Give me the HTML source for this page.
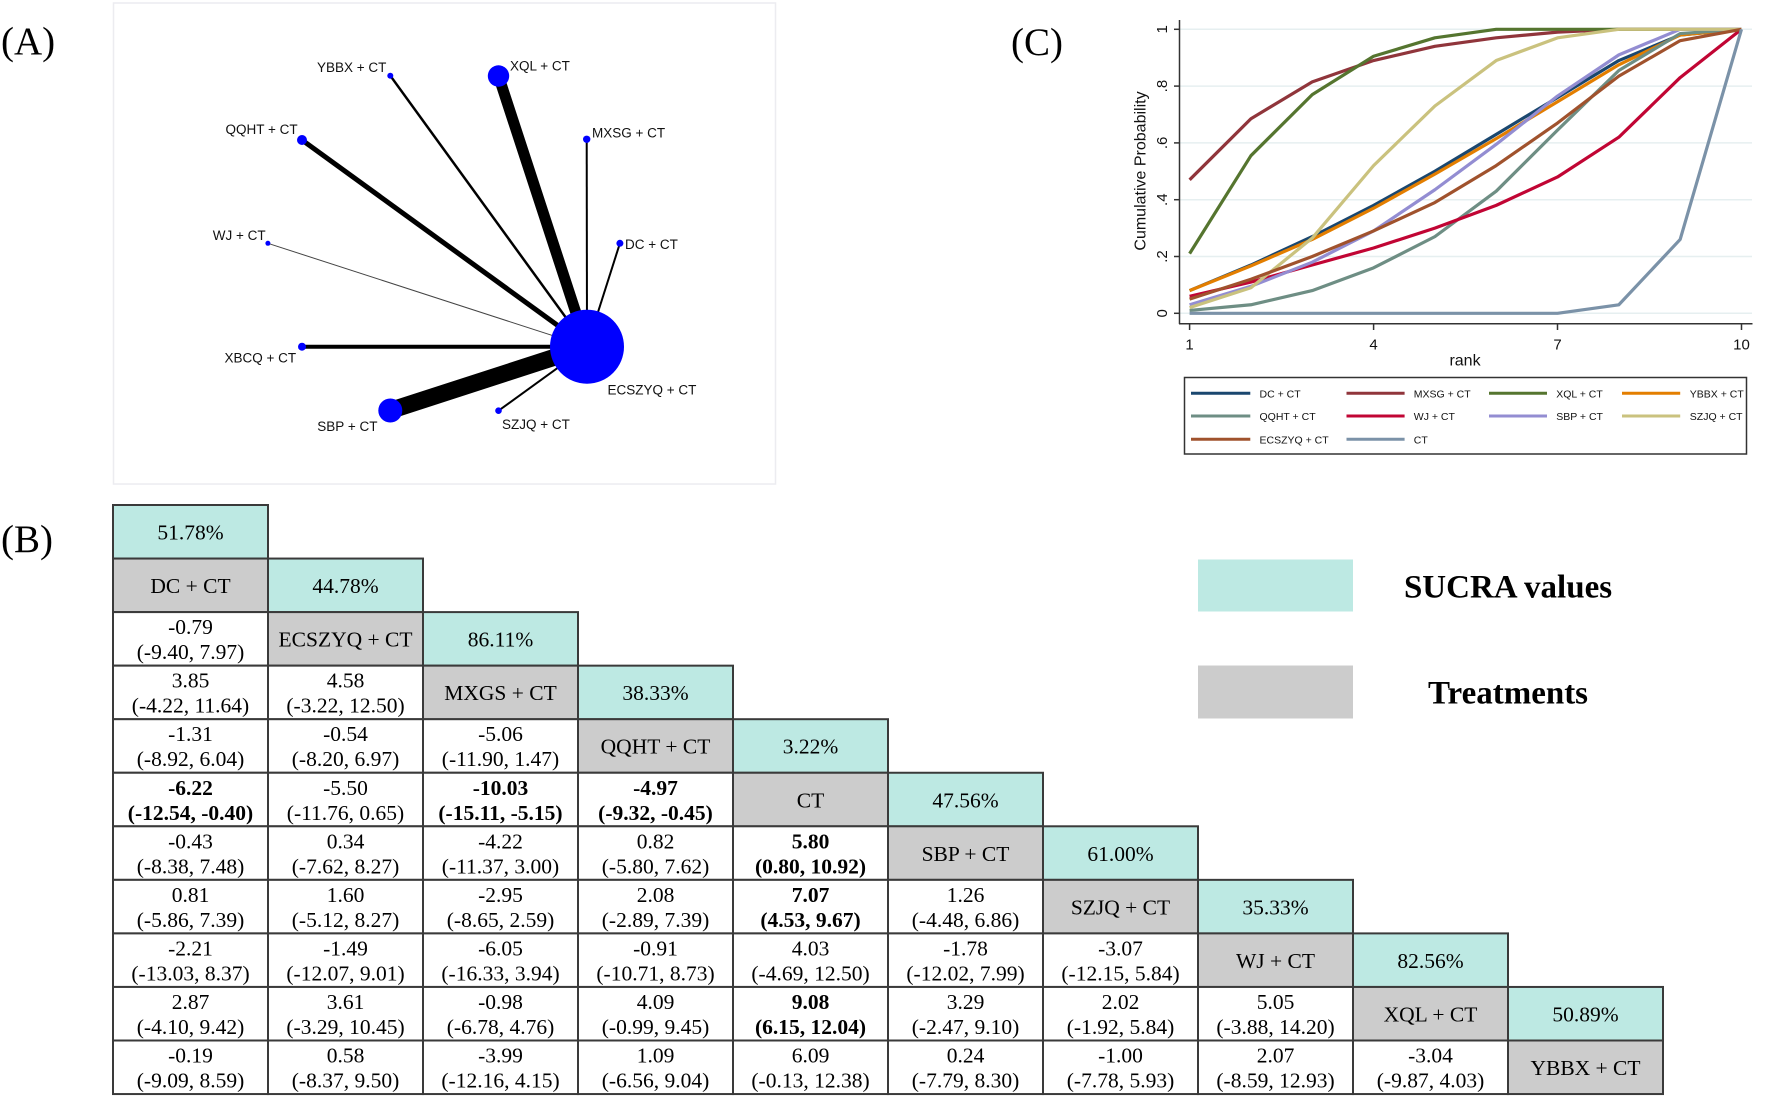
<!DOCTYPE html>
<html>
<head>
<meta charset="utf-8">
<style>
html,body{margin:0;padding:0;background:#fff;}
svg{display:block;}
.t{font-family:"Liberation Serif",serif;font-size:21.5px;text-anchor:middle;fill:#000;}
.b{font-weight:bold;}
.s{font-family:"Liberation Sans",sans-serif;font-size:13.5px;fill:#111;}
.lg{font-family:"Liberation Sans",sans-serif;font-size:10.5px;fill:#111;}
.ax{font-family:"Liberation Sans",sans-serif;fill:#111;}
.pl{font-family:"Liberation Serif",serif;font-size:39px;fill:#000;}
</style>
</head>
<body>
<svg width="1772" height="1098" viewBox="0 0 1772 1098" xmlns="http://www.w3.org/2000/svg">
<rect width="1772" height="1098" fill="#fff"/>

<!-- Panel labels -->
<text class="pl" x="1" y="54">(A)</text>
<text class="pl" x="1" y="552">(B)</text>
<text class="pl" x="1011" y="55">(C)</text>

<!-- ================= PANEL A ================= -->
<rect x="113.5" y="3" width="662" height="481" fill="none" stroke="#ececf0" stroke-width="1.5"/>
<g stroke="#000" stroke-linecap="butt">
  <line x1="267.9" y1="243.3" x2="587" y2="346.7" stroke="#444" stroke-width="1"/>
  <line x1="390.3" y1="75.7" x2="587" y2="346.7" stroke-width="2.5"/>
  <line x1="302" y1="140" x2="587" y2="346.7" stroke-width="5"/>
  <line x1="498.5" y1="76" x2="587" y2="346.7" stroke-width="11"/>
  <line x1="586.7" y1="139.3" x2="587" y2="346.7" stroke-width="2"/>
  <line x1="619.9" y1="243.3" x2="587" y2="346.7" stroke-width="2"/>
  <line x1="302" y1="346.7" x2="587" y2="346.7" stroke-width="4"/>
  <line x1="390.3" y1="410.5" x2="587" y2="346.7" stroke-width="17"/>
  <line x1="498.5" y1="410.7" x2="587" y2="346.7" stroke-width="2"/>
</g>
<g fill="#0000ff">
  <circle cx="587" cy="346.7" r="37"/>
  <circle cx="498.5" cy="76" r="10.7"/>
  <circle cx="390.3" cy="75.7" r="3"/>
  <circle cx="302" cy="140" r="5"/>
  <circle cx="586.7" cy="139.3" r="3.7"/>
  <circle cx="267.9" cy="243.3" r="2.5"/>
  <circle cx="619.9" cy="243.3" r="3.5"/>
  <circle cx="302" cy="346.7" r="4"/>
  <circle cx="390.3" cy="410.5" r="12"/>
  <circle cx="498.5" cy="410.7" r="3.3"/>
</g>
<text class="s" x="317" y="72">YBBX + CT</text>
<text class="s" x="510" y="70.7">XQL + CT</text>
<text class="s" x="225.5" y="134">QQHT + CT</text>
<text class="s" x="592" y="137.5">MXSG + CT</text>
<text class="s" x="212.8" y="240">WJ + CT</text>
<text class="s" x="625" y="249">DC + CT</text>
<text class="s" x="224.5" y="362.7">XBCQ + CT</text>
<text class="s" x="607.5" y="394.3">ECSZYQ + CT</text>
<text class="s" x="317.3" y="431">SBP + CT</text>
<text class="s" x="502" y="428.8">SZJQ + CT</text>

<!-- ================= PANEL C ================= -->
<g stroke="#e6eff0" stroke-width="1.5">
  <line x1="1180" y1="29.3" x2="1752" y2="29.3"/>
  <line x1="1180" y1="86.1" x2="1752" y2="86.1"/>
  <line x1="1180" y1="142.9" x2="1752" y2="142.9"/>
  <line x1="1180" y1="199.7" x2="1752" y2="199.7"/>
  <line x1="1180" y1="256.5" x2="1752" y2="256.5"/>
  <line x1="1180" y1="313.3" x2="1752" y2="313.3"/>
</g>
<g stroke="#333" stroke-width="1.5">
  <line x1="1179.5" y1="20" x2="1179.5" y2="324"/>
  <line x1="1179" y1="323.7" x2="1752.5" y2="323.7"/>
  <line x1="1174" y1="29.3" x2="1179.5" y2="29.3"/>
  <line x1="1174" y1="86.1" x2="1179.5" y2="86.1"/>
  <line x1="1174" y1="142.9" x2="1179.5" y2="142.9"/>
  <line x1="1174" y1="199.7" x2="1179.5" y2="199.7"/>
  <line x1="1174" y1="256.5" x2="1179.5" y2="256.5"/>
  <line x1="1174" y1="313.3" x2="1179.5" y2="313.3"/>
  <line x1="1189.6" y1="323.7" x2="1189.6" y2="330"/>
  <line x1="1373.6" y1="323.7" x2="1373.6" y2="330"/>
  <line x1="1557.5" y1="323.7" x2="1557.5" y2="330"/>
  <line x1="1741.5" y1="323.7" x2="1741.5" y2="330"/>
</g>
<g class="ax" font-size="15" text-anchor="middle">
  <text transform="translate(1167,29.3) rotate(-90)">1</text>
  <text transform="translate(1167,86.1) rotate(-90)">.8</text>
  <text transform="translate(1167,142.9) rotate(-90)">.6</text>
  <text transform="translate(1167,199.7) rotate(-90)">.4</text>
  <text transform="translate(1167,256.5) rotate(-90)">.2</text>
  <text transform="translate(1167,313.3) rotate(-90)">0</text>
  <text x="1189.6" y="349.3">1</text>
  <text x="1373.6" y="349.3">4</text>
  <text x="1557.5" y="349.3">7</text>
  <text x="1741.5" y="349.3">10</text>
</g>
<text class="ax" font-size="16" text-anchor="middle" x="1465" y="365.5">rank</text>
<text class="ax" font-size="16" text-anchor="middle" transform="translate(1145.5,171) rotate(-90)">Cumulative Probability</text>

<g transform="translate(1189.6,313.3) scale(61.32,-284)" fill="none" stroke-width="3.2" stroke-linejoin="round">
  <polyline vector-effect="non-scaling-stroke" stroke="#1a476f" points="0,.08 1,.17 2,.27 3,.38 4,.50 5,.63 6,.76 7,.89 8,.98 9,1"/>
  <polyline vector-effect="non-scaling-stroke" stroke="#90353b" points="0,.47 1,.685 2,.815 3,.89 4,.94 5,.97 6,.99 7,1 8,1 9,1"/>
  <polyline vector-effect="non-scaling-stroke" stroke="#55752f" points="0,.21 1,.555 2,.77 3,.905 4,.97 5,1 6,1 7,1 8,1 9,1"/>
  <polyline vector-effect="non-scaling-stroke" stroke="#e37e00" points="0,.08 1,.167 2,.26 3,.37 4,.49 5,.615 6,.745 7,.875 8,.98 9,1"/>
  <polyline vector-effect="non-scaling-stroke" stroke="#6e8e84" points="0,.01 1,.03 2,.08 3,.16 4,.27 5,.43 6,.645 7,.855 8,.985 9,1"/>
  <polyline vector-effect="non-scaling-stroke" stroke="#c10534" points="0,.06 1,.11 2,.17 3,.23 4,.30 5,.38 6,.48 7,.62 8,.83 9,1"/>
  <polyline vector-effect="non-scaling-stroke" stroke="#938dd2" points="0,.03 1,.095 2,.18 3,.29 4,.435 5,.595 6,.765 7,.91 8,1 9,1"/>
  <polyline vector-effect="non-scaling-stroke" stroke="#cac27e" points="0,.02 1,.09 2,.265 3,.52 4,.73 5,.89 6,.97 7,1 8,1 9,1"/>
  <polyline vector-effect="non-scaling-stroke" stroke="#a0522d" points="0,.05 1,.12 2,.20 3,.29 4,.39 5,.52 6,.67 7,.835 8,.96 9,1"/>
  <polyline vector-effect="non-scaling-stroke" stroke="#7b92a8" points="0,0 1,0 2,0 3,0 4,0 5,0 6,0 7,.03 8,.26 9,1"/>
</g>

<!-- legend -->
<rect x="1184.5" y="377.5" width="562" height="76.5" fill="#fff" stroke="#333" stroke-width="1.5"/>
<g stroke-width="3">
  <line x1="1191" y1="393.3" x2="1250.3" y2="393.3" stroke="#1a476f"/>
  <line x1="1346.5" y1="393.3" x2="1404.6" y2="393.3" stroke="#90353b"/>
  <line x1="1489" y1="393.3" x2="1547" y2="393.3" stroke="#55752f"/>
  <line x1="1622" y1="393.3" x2="1680.2" y2="393.3" stroke="#e37e00"/>
  <line x1="1191" y1="416" x2="1250.3" y2="416" stroke="#6e8e84"/>
  <line x1="1346.5" y1="416" x2="1404.6" y2="416" stroke="#c10534"/>
  <line x1="1489" y1="416" x2="1547" y2="416" stroke="#938dd2"/>
  <line x1="1622" y1="416" x2="1680.2" y2="416" stroke="#cac27e"/>
  <line x1="1191" y1="439.3" x2="1250.3" y2="439.3" stroke="#a0522d"/>
  <line x1="1346.5" y1="439.3" x2="1404.6" y2="439.3" stroke="#7b92a8"/>
</g>
<g class="lg">
  <text x="1259.5" y="397.3">DC + CT</text>
  <text x="1413.8" y="397.3">MXSG + CT</text>
  <text x="1556.2" y="397.3">XQL + CT</text>
  <text x="1689.8" y="397.3">YBBX + CT</text>
  <text x="1259.5" y="420">QQHT + CT</text>
  <text x="1413.8" y="420">WJ + CT</text>
  <text x="1556.2" y="420">SBP + CT</text>
  <text x="1689.8" y="420">SZJQ + CT</text>
  <text x="1259.5" y="443.3">ECSZYQ + CT</text>
  <text x="1413.8" y="443.3">CT</text>
</g>

<!-- ================= PANEL B ================= -->
<!-- key -->
<rect x="1198" y="559.5" width="155" height="52" fill="#bde9e3"/>
<rect x="1198" y="665.5" width="155" height="53" fill="#cccccc"/>
<text class="t b" x="1508" y="597.5" style="font-size:33px">SUCRA values</text>
<text class="t b" x="1508" y="703.5" style="font-size:33px">Treatments</text>

<g stroke="#3a3a3a" stroke-width="2">
<!-- row 0 -->
<g transform="translate(0,505)">
  <rect x="113" y="0" width="155" height="53.55" fill="#bde9e3"/>
  <text class="t" stroke="none" x="190.5" y="34.5">51.78%</text>
</g>
<!-- row 1 -->
<g transform="translate(0,558.55)">
  <rect x="113" y="0" width="155" height="53.55" fill="#cccccc"/>
  <rect x="268" y="0" width="155" height="53.55" fill="#bde9e3"/>
  <g stroke="none">
  <text class="t" x="190.5" y="34.5">DC + CT</text>
  <text class="t" x="345.5" y="34.5">44.78%</text>
  </g>
</g>
<!-- row 2 -->
<g transform="translate(0,612.1)">
  <rect x="113" y="0" width="155" height="53.55" fill="#fff"/>
  <rect x="268" y="0" width="155" height="53.55" fill="#cccccc"/>
  <rect x="423" y="0" width="155" height="53.55" fill="#bde9e3"/>
  <g stroke="none">
  <text class="t" x="190.5" y="22">-0.79</text><text class="t" x="190.5" y="47">(-9.40, 7.97)</text>
  <text class="t" x="345.5" y="34.5">ECSZYQ + CT</text>
  <text class="t" x="500.5" y="34.5">86.11%</text>
  </g>
</g>
<!-- row 3 -->
<g transform="translate(0,665.65)">
  <rect x="113" y="0" width="155" height="53.55" fill="#fff"/>
  <rect x="268" y="0" width="155" height="53.55" fill="#fff"/>
  <rect x="423" y="0" width="155" height="53.55" fill="#cccccc"/>
  <rect x="578" y="0" width="155" height="53.55" fill="#bde9e3"/>
  <g stroke="none">
  <text class="t" x="190.5" y="22">3.85</text><text class="t" x="190.5" y="47">(-4.22, 11.64)</text>
  <text class="t" x="345.5" y="22">4.58</text><text class="t" x="345.5" y="47">(-3.22, 12.50)</text>
  <text class="t" x="500.5" y="34.5">MXGS + CT</text>
  <text class="t" x="655.5" y="34.5">38.33%</text>
  </g>
</g>
<!-- row 4 -->
<g transform="translate(0,719.2)">
  <rect x="113" y="0" width="155" height="53.55" fill="#fff"/>
  <rect x="268" y="0" width="155" height="53.55" fill="#fff"/>
  <rect x="423" y="0" width="155" height="53.55" fill="#fff"/>
  <rect x="578" y="0" width="155" height="53.55" fill="#cccccc"/>
  <rect x="733" y="0" width="155" height="53.55" fill="#bde9e3"/>
  <g stroke="none">
  <text class="t" x="190.5" y="22">-1.31</text><text class="t" x="190.5" y="47">(-8.92, 6.04)</text>
  <text class="t" x="345.5" y="22">-0.54</text><text class="t" x="345.5" y="47">(-8.20, 6.97)</text>
  <text class="t" x="500.5" y="22">-5.06</text><text class="t" x="500.5" y="47">(-11.90, 1.47)</text>
  <text class="t" x="655.5" y="34.5">QQHT + CT</text>
  <text class="t" x="810.5" y="34.5">3.22%</text>
  </g>
</g>
<!-- row 5 -->
<g transform="translate(0,772.75)">
  <rect x="113" y="0" width="155" height="53.55" fill="#fff"/>
  <rect x="268" y="0" width="155" height="53.55" fill="#fff"/>
  <rect x="423" y="0" width="155" height="53.55" fill="#fff"/>
  <rect x="578" y="0" width="155" height="53.55" fill="#fff"/>
  <rect x="733" y="0" width="155" height="53.55" fill="#cccccc"/>
  <rect x="888" y="0" width="155" height="53.55" fill="#bde9e3"/>
  <g stroke="none">
  <text class="t b" x="190.5" y="22">-6.22</text><text class="t b" x="190.5" y="47">(-12.54, -0.40)</text>
  <text class="t" x="345.5" y="22">-5.50</text><text class="t" x="345.5" y="47">(-11.76, 0.65)</text>
  <text class="t b" x="500.5" y="22">-10.03</text><text class="t b" x="500.5" y="47">(-15.11, -5.15)</text>
  <text class="t b" x="655.5" y="22">-4.97</text><text class="t b" x="655.5" y="47">(-9.32, -0.45)</text>
  <text class="t" x="810.5" y="34.5">CT</text>
  <text class="t" x="965.5" y="34.5">47.56%</text>
  </g>
</g>
<!-- row 6 -->
<g transform="translate(0,826.3)">
  <rect x="113" y="0" width="155" height="53.55" fill="#fff"/>
  <rect x="268" y="0" width="155" height="53.55" fill="#fff"/>
  <rect x="423" y="0" width="155" height="53.55" fill="#fff"/>
  <rect x="578" y="0" width="155" height="53.55" fill="#fff"/>
  <rect x="733" y="0" width="155" height="53.55" fill="#fff"/>
  <rect x="888" y="0" width="155" height="53.55" fill="#cccccc"/>
  <rect x="1043" y="0" width="155" height="53.55" fill="#bde9e3"/>
  <g stroke="none">
  <text class="t" x="190.5" y="22">-0.43</text><text class="t" x="190.5" y="47">(-8.38, 7.48)</text>
  <text class="t" x="345.5" y="22">0.34</text><text class="t" x="345.5" y="47">(-7.62, 8.27)</text>
  <text class="t" x="500.5" y="22">-4.22</text><text class="t" x="500.5" y="47">(-11.37, 3.00)</text>
  <text class="t" x="655.5" y="22">0.82</text><text class="t" x="655.5" y="47">(-5.80, 7.62)</text>
  <text class="t b" x="810.5" y="22">5.80</text><text class="t b" x="810.5" y="47">(0.80, 10.92)</text>
  <text class="t" x="965.5" y="34.5">SBP + CT</text>
  <text class="t" x="1120.5" y="34.5">61.00%</text>
  </g>
</g>
<!-- row 7 -->
<g transform="translate(0,879.85)">
  <rect x="113" y="0" width="155" height="53.55" fill="#fff"/>
  <rect x="268" y="0" width="155" height="53.55" fill="#fff"/>
  <rect x="423" y="0" width="155" height="53.55" fill="#fff"/>
  <rect x="578" y="0" width="155" height="53.55" fill="#fff"/>
  <rect x="733" y="0" width="155" height="53.55" fill="#fff"/>
  <rect x="888" y="0" width="155" height="53.55" fill="#fff"/>
  <rect x="1043" y="0" width="155" height="53.55" fill="#cccccc"/>
  <rect x="1198" y="0" width="155" height="53.55" fill="#bde9e3"/>
  <g stroke="none">
  <text class="t" x="190.5" y="22">0.81</text><text class="t" x="190.5" y="47">(-5.86, 7.39)</text>
  <text class="t" x="345.5" y="22">1.60</text><text class="t" x="345.5" y="47">(-5.12, 8.27)</text>
  <text class="t" x="500.5" y="22">-2.95</text><text class="t" x="500.5" y="47">(-8.65, 2.59)</text>
  <text class="t" x="655.5" y="22">2.08</text><text class="t" x="655.5" y="47">(-2.89, 7.39)</text>
  <text class="t b" x="810.5" y="22">7.07</text><text class="t b" x="810.5" y="47">(4.53, 9.67)</text>
  <text class="t" x="965.5" y="22">1.26</text><text class="t" x="965.5" y="47">(-4.48, 6.86)</text>
  <text class="t" x="1120.5" y="34.5">SZJQ + CT</text>
  <text class="t" x="1275.5" y="34.5">35.33%</text>
  </g>
</g>
<!-- row 8 -->
<g transform="translate(0,933.4)">
  <rect x="113" y="0" width="155" height="53.55" fill="#fff"/>
  <rect x="268" y="0" width="155" height="53.55" fill="#fff"/>
  <rect x="423" y="0" width="155" height="53.55" fill="#fff"/>
  <rect x="578" y="0" width="155" height="53.55" fill="#fff"/>
  <rect x="733" y="0" width="155" height="53.55" fill="#fff"/>
  <rect x="888" y="0" width="155" height="53.55" fill="#fff"/>
  <rect x="1043" y="0" width="155" height="53.55" fill="#fff"/>
  <rect x="1198" y="0" width="155" height="53.55" fill="#cccccc"/>
  <rect x="1353" y="0" width="155" height="53.55" fill="#bde9e3"/>
  <g stroke="none">
  <text class="t" x="190.5" y="22">-2.21</text><text class="t" x="190.5" y="47">(-13.03, 8.37)</text>
  <text class="t" x="345.5" y="22">-1.49</text><text class="t" x="345.5" y="47">(-12.07, 9.01)</text>
  <text class="t" x="500.5" y="22">-6.05</text><text class="t" x="500.5" y="47">(-16.33, 3.94)</text>
  <text class="t" x="655.5" y="22">-0.91</text><text class="t" x="655.5" y="47">(-10.71, 8.73)</text>
  <text class="t" x="810.5" y="22">4.03</text><text class="t" x="810.5" y="47">(-4.69, 12.50)</text>
  <text class="t" x="965.5" y="22">-1.78</text><text class="t" x="965.5" y="47">(-12.02, 7.99)</text>
  <text class="t" x="1120.5" y="22">-3.07</text><text class="t" x="1120.5" y="47">(-12.15, 5.84)</text>
  <text class="t" x="1275.5" y="34.5">WJ + CT</text>
  <text class="t" x="1430.5" y="34.5">82.56%</text>
  </g>
</g>
<!-- row 9 -->
<g transform="translate(0,986.95)">
  <rect x="113" y="0" width="155" height="53.55" fill="#fff"/>
  <rect x="268" y="0" width="155" height="53.55" fill="#fff"/>
  <rect x="423" y="0" width="155" height="53.55" fill="#fff"/>
  <rect x="578" y="0" width="155" height="53.55" fill="#fff"/>
  <rect x="733" y="0" width="155" height="53.55" fill="#fff"/>
  <rect x="888" y="0" width="155" height="53.55" fill="#fff"/>
  <rect x="1043" y="0" width="155" height="53.55" fill="#fff"/>
  <rect x="1198" y="0" width="155" height="53.55" fill="#fff"/>
  <rect x="1353" y="0" width="155" height="53.55" fill="#cccccc"/>
  <rect x="1508" y="0" width="155" height="53.55" fill="#bde9e3"/>
  <g stroke="none">
  <text class="t" x="190.5" y="22">2.87</text><text class="t" x="190.5" y="47">(-4.10, 9.42)</text>
  <text class="t" x="345.5" y="22">3.61</text><text class="t" x="345.5" y="47">(-3.29, 10.45)</text>
  <text class="t" x="500.5" y="22">-0.98</text><text class="t" x="500.5" y="47">(-6.78, 4.76)</text>
  <text class="t" x="655.5" y="22">4.09</text><text class="t" x="655.5" y="47">(-0.99, 9.45)</text>
  <text class="t b" x="810.5" y="22">9.08</text><text class="t b" x="810.5" y="47">(6.15, 12.04)</text>
  <text class="t" x="965.5" y="22">3.29</text><text class="t" x="965.5" y="47">(-2.47, 9.10)</text>
  <text class="t" x="1120.5" y="22">2.02</text><text class="t" x="1120.5" y="47">(-1.92, 5.84)</text>
  <text class="t" x="1275.5" y="22">5.05</text><text class="t" x="1275.5" y="47">(-3.88, 14.20)</text>
  <text class="t" x="1430.5" y="34.5">XQL + CT</text>
  <text class="t" x="1585.5" y="34.5">50.89%</text>
  </g>
</g>
<!-- row 10 -->
<g transform="translate(0,1040.5)">
  <rect x="113" y="0" width="155" height="53.55" fill="#fff"/>
  <rect x="268" y="0" width="155" height="53.55" fill="#fff"/>
  <rect x="423" y="0" width="155" height="53.55" fill="#fff"/>
  <rect x="578" y="0" width="155" height="53.55" fill="#fff"/>
  <rect x="733" y="0" width="155" height="53.55" fill="#fff"/>
  <rect x="888" y="0" width="155" height="53.55" fill="#fff"/>
  <rect x="1043" y="0" width="155" height="53.55" fill="#fff"/>
  <rect x="1198" y="0" width="155" height="53.55" fill="#fff"/>
  <rect x="1353" y="0" width="155" height="53.55" fill="#fff"/>
  <rect x="1508" y="0" width="155" height="53.55" fill="#cccccc"/>
  <g stroke="none">
  <text class="t" x="190.5" y="22">-0.19</text><text class="t" x="190.5" y="47">(-9.09, 8.59)</text>
  <text class="t" x="345.5" y="22">0.58</text><text class="t" x="345.5" y="47">(-8.37, 9.50)</text>
  <text class="t" x="500.5" y="22">-3.99</text><text class="t" x="500.5" y="47">(-12.16, 4.15)</text>
  <text class="t" x="655.5" y="22">1.09</text><text class="t" x="655.5" y="47">(-6.56, 9.04)</text>
  <text class="t" x="810.5" y="22">6.09</text><text class="t" x="810.5" y="47">(-0.13, 12.38)</text>
  <text class="t" x="965.5" y="22">0.24</text><text class="t" x="965.5" y="47">(-7.79, 8.30)</text>
  <text class="t" x="1120.5" y="22">-1.00</text><text class="t" x="1120.5" y="47">(-7.78, 5.93)</text>
  <text class="t" x="1275.5" y="22">2.07</text><text class="t" x="1275.5" y="47">(-8.59, 12.93)</text>
  <text class="t" x="1430.5" y="22">-3.04</text><text class="t" x="1430.5" y="47">(-9.87, 4.03)</text>
  <text class="t" x="1585.5" y="34.5">YBBX + CT</text>
  </g>
</g>
</g>
</svg>
</body>
</html>
